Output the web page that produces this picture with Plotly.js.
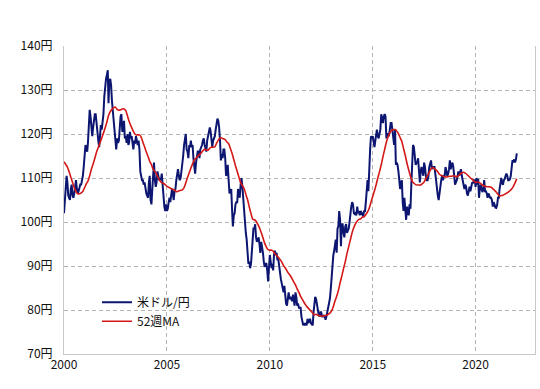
<!DOCTYPE html>
<html><head><meta charset="utf-8">
<script src="https://cdn.plot.ly/plotly-3.0.1.min.js"></script>
<style>html,body{margin:0;padding:0;background:#fff}#chart{width:540px;height:389px}</style>
</head><body><div id="chart"></div>
<script>
const seriesNames = ['米ドル/円', '52週MA'];
const yTickVals = [70, 80, 90, 100, 110, 120, 130, 140];
const yTickText = ['70円', '80円', '90円', '100円', '110円', '120円', '130円', '140円'];
const xTickVals = ['2000-01-01', '2005-01-01', '2010-01-01', '2015-01-01', '2020-01-01'];
const xTickText = ['2000', '2005', '2010', '2015', '2020'];

// USD/JPY, semi-monthly readings (1st and 16th of each month) from 2000-01 to 2022-01
const usdJpy = [
  102.0,105.5, 108.0,110.5, 109.0,106.0, 105.5,105.0, 107.5,108.5, 106.0,105.5, 106.5,108.5, 109.5,107.5, 106.5,107.0, 108.0,108.5, 108.5,109.5, 110.5,112.5,
  114.5,117.5, 116.5,116.0, 118.0,122.5, 125.5,124.0, 121.0,119.5, 121.5,124.0, 124.5,124.5, 122.0,120.0, 118.5,117.0, 120.5,122.0, 121.0,122.5, 124.5,128.5,
  131.5,132.5, 133.5,134.5, 127.0,132.0, 132.5,131.0, 127.5,125.0, 124.5,121.5, 118.0,116.5, 119.0,118.0, 118.5,122.0, 124.0,124.5, 120.5,121.0, 123.0,119.0,
  119.5,118.0, 120.0,117.5, 118.0,120.5, 119.0,119.5, 117.5,116.5, 118.5,117.8, 119.5,118.0, 117.5,118.5, 116.5,111.5, 110.0,109.5, 109.5,108.5, 109.0,107.5,
  106.5,106.0, 105.5,109.0, 110.5,105.0, 104.0,107.5, 110.5,113.5, 109.5,108.0, 109.0,111.5, 110.5,109.5, 110.0,109.5, 111.0,108.0, 105.5,103.5, 102.5,104.0,
  102.5,103.0, 104.5,105.5, 104.5,106.0, 107.5,106.5, 105.0,107.0, 107.5,109.5, 111.5,112.0, 110.5,109.5, 110.0,111.5, 113.5,115.0, 117.5,118.5, 120.0,116.5,
  116.0,114.5, 117.5,117.0, 118.5,117.0, 117.5,114.5, 111.5,111.0, 113.5,115.0, 116.0,116.0, 114.5,116.5, 117.0,117.5, 118.5,119.0, 117.5,116.5, 116.0,118.5,
  119.5,121.0, 121.5,120.5, 117.5,117.0, 118.5,119.0, 119.5,121.0, 122.0,123.5, 123.0,121.5, 118.5,114.0, 115.5,114.5, 116.5,116.5, 114.5,110.5, 111.0,113.0,
  109.5,106.5, 107.0,107.5, 103.0,99.0, 101.5,102.0, 104.0,104.5, 104.5,107.5, 106.5,105.5, 108.5,110.0, 108.0,105.0, 103.5,99.0, 97.5,96.0, 93.5,90.5,
  91.0,89.5, 90.5,93.5, 98.0,98.5, 98.5,99.5, 96.5,95.5, 96.0,96.5, 95.0,93.0, 95.5,94.5, 93.0,91.0, 89.8,90.5, 90.5,89.0, 86.5,89.5,
  92.5,91.0, 89.5,90.5, 89.0,92.5, 93.5,92.5, 93.0,91.5, 91.5,90.0, 88.0,87.0, 86.0,85.0, 84.0,85.5, 83.0,81.5, 81.0,83.5, 84.0,82.5,
  83.0,82.5, 82.0,83.5, 81.5,81.0, 84.0,83.0, 81.0,81.5, 80.5,80.5, 80.5,78.5, 77.5,76.5, 77.0,76.5, 77.0,76.5, 78.0,77.0, 77.5,78.0,
  77.0,76.8, 76.5,79.5, 81.5,83.0, 82.5,81.0, 80.0,79.0, 78.5,79.5, 79.5,78.5, 78.5,78.7, 78.5,77.8, 78.5,79.5, 80.0,81.5, 82.5,84.5,
  87.5,89.5, 92.5,93.5, 94.5,96.0, 93.0,98.5, 99.0,102.5, 100.5,94.5, 99.5,99.5, 97.5,96.5, 99.0,99.5, 97.5,98.0, 98.5,100.0, 102.5,103.5,
  104.5,104.0, 102.0,101.8, 102.0,101.5, 103.5,102.0, 102.5,101.5, 102.5,102.0, 101.8,101.3, 102.6,102.3, 104.5,107.5, 109.5,107.0, 114.5,116.5, 119.5,119.0,
  119.5,117.5, 117.0,118.5, 120.0,121.0, 119.5,119.0, 120.0,121.0, 124.5,123.5, 122.5,124.0, 124.5,124.0, 119.0,120.0, 120.0,119.5, 121.5,122.5, 122.5,121.0,
  119.5,117.5, 121.0,113.0, 113.5,113.0, 111.5,108.5, 107.5,109.0, 109.5,104.5, 102.5,105.5, 102.0,100.5, 103.5,102.0, 101.5,104.0, 103.0,108.5, 113.5,117.5,
  117.0,114.5, 113.0,113.5, 113.5,114.5, 111.0,109.0, 111.5,112.5, 111.5,110.5, 113.5,112.5, 110.5,109.5, 109.5,110.5, 112.5,113.5, 114.0,112.0, 112.5,112.5,
  112.5,111.0, 109.0,106.5, 106.0,105.0, 107.0,108.0, 109.5,110.5, 109.5,110.5, 110.5,112.5, 111.5,110.5, 111.0,112.0, 114.0,112.0, 113.0,113.5, 112.5,110.5,
  108.5,109.0, 109.5,110.5, 111.5,110.5, 111.5,112.0, 110.5,109.5, 108.5,107.5, 108.5,108.0, 106.5,106.0, 107.0,108.0, 107.0,108.5, 109.0,108.8, 109.5,109.5,
  108.0,110.0, 108.5,109.8, 105.5,107.5, 108.5,107.5, 106.8,107.3, 109.5,107.0, 107.0,106.5, 105.5,106.5, 106.0,105.5, 105.5,105.0, 103.5,104.5, 104.0,103.3,
  103.2,103.8, 105.5,105.5, 107.5,109.0, 110.0,108.8, 108.5,109.5, 109.8,110.5, 111.0,110.5, 109.5,109.5, 109.7,110.5, 112.5,114.0, 113.8,114.2, 113.5,114.2,
  115.6
];

// 52-week moving average, monthly readings (1st of each month) from 2000-01 to 2022-01
const ma52 = [
  113.7, 113.1,112.5,111.4,110.2,109.0,107.8,106.9,106.4,106.4,106.6,107.0,
  107.8, 108.7,109.3,110.5,112.0,113.2,114.5,115.9,117.0,118.0,119.1,120.2,
  121.4, 122.8,124.2,125.1,125.6,126.0,126.1,125.6,125.4,125.5,125.7,125.7,
  125.3, 124.1,122.9,121.9,121.0,120.2,119.8,119.8,119.8,119.3,118.1,117.1,
  115.9, 114.9,113.8,113.0,112.0,111.5,110.8,110.0,109.3,108.9,108.8,108.5,
  108.1, 107.9,107.7,107.5,107.4,107.0,106.9,107.1,107.2,107.3,107.8,108.9,
  110.1, 111.2,112.2,113.2,114.1,114.5,115.0,115.3,115.7,116.2,116.5,116.4,
  116.3, 116.8,117.0,117.0,117.1,117.9,118.6,119.1,119.1,118.9,118.7,118.2,
  117.8, 116.7,115.6,114.2,112.8,111.5,110.2,108.9,108.3,107.6,106.3,105.1,
  103.4, 101.9,100.7,100.5,100.2,99.5,98.7,97.6,96.4,95.2,94.3,93.7,
  93.6, 93.6,93.4,92.8,92.4,92.0,91.5,90.9,90.1,89.6,88.9,88.3,
  87.8, 87.1,86.4,85.7,84.8,84.0,83.1,82.4,81.7,81.1,80.6,80.2,
  79.8, 79.3,78.9,79.0,78.8,78.7,78.6,78.6,78.7,78.8,79.0,79.3,
  79.8, 80.8,82.0,83.1,84.4,86.2,87.7,89.4,91.0,92.8,94.4,96.0,
  97.6, 98.8,99.6,100.2,100.6,100.7,101.1,101.2,101.7,102.3,103.2,104.5,
  105.8, 107.1,108.4,110.0,111.4,113.0,114.8,116.5,118.2,119.3,120.3,120.8,
  121.0, 121.0,120.7,120.1,119.2,118.3,116.7,115.1,113.3,111.8,110.4,109.3,
  108.8, 108.5,108.4,108.4,108.4,108.7,109.1,109.9,110.6,111.3,112.1,112.4,
  112.1, 111.8,111.4,110.8,110.6,110.4,110.3,110.2,110.3,110.4,110.4,110.5,
  110.4, 110.3,110.5,110.9,111.2,111.3,111.1,110.8,110.4,110.0,109.7,109.3,
  109.0, 109.1,109.0,108.7,108.4,108.2,108.1,108.0,108.0,107.9,107.6,107.2,
  106.8, 106.3,105.9,106.0,106.1,106.3,106.5,106.8,107.1,107.5,108.1,108.9,
  109.8
];

function pad(n) { return (n < 10 ? '0' : '') + n; }
function semiMonthlyDates(startYear, n) {
  const out = [];
  for (let i = 0; i < n; i++) {
    const y = startYear + Math.floor(i / 24);
    const m = Math.floor((i % 24) / 2) + 1;
    out.push(y + '-' + pad(m) + '-' + (i % 2 ? '16' : '01'));
  }
  return out;
}
function monthlyDates(startYear, n) {
  const out = [];
  for (let i = 0; i < n; i++) {
    const y = startYear + Math.floor(i / 12);
    const m = (i % 12) + 1;
    out.push(y + '-' + pad(m) + '-01');
  }
  return out;
}

const font = "'Noto Sans CJK JP', 'Noto Sans', sans-serif";

const traces = [
  {
    x: semiMonthlyDates(2000, usdJpy.length), y: usdJpy,
    type: 'scatter', mode: 'lines', name: seriesNames[0],
    line: { color: '#0c1670', width: 2 }
  },
  {
    x: monthlyDates(2000, ma52.length), y: ma52,
    type: 'scatter', mode: 'lines', name: seriesNames[1],
    line: { color: '#d41818', width: 1.6, shape: 'spline', smoothing: 0.6 }
  }
];

const layout = {
  width: 540, height: 389,
  margin: { l: 64, r: 5, t: 46, b: 35 },
  paper_bgcolor: '#ffffff', plot_bgcolor: '#ffffff',
  font: { family: font, size: 12, color: '#111' },
  showlegend: true,
  legend: {
    x: 0.07, y: 0.215, xanchor: 'left', yanchor: 'top',
    bgcolor: 'rgba(0,0,0,0)', font: { family: font, size: 12, color: '#111' },
    tracegroupgap: 0
  },
  xaxis: {
    type: 'date',
    range: ['2000-01-01', '2022-11-20'],
    tickvals: xTickVals, ticktext: xTickText,
    showgrid: true, gridcolor: '#b4b4b4', griddash: '4px,3px', gridwidth: 1,
    showline: true, linecolor: '#c8c8c8', linewidth: 1, mirror: false,
    ticks: '', zeroline: false,
    tickfont: { family: font, size: 12, color: '#111' }
  },
  yaxis: {
    range: [70, 140],
    tickvals: yTickVals, ticktext: yTickText,
    showgrid: true, gridcolor: '#b4b4b4', griddash: '4px,3px', gridwidth: 1,
    showline: true, linecolor: '#c8c8c8', linewidth: 1, mirror: true,
    ticks: '', zeroline: false, ticklabelstandoff: 8,
    tickfont: { family: font, size: 12, color: '#111' }
  }
};

Plotly.newPlot('chart', traces, layout, { displayModeBar: false, staticPlot: true });
</script>
</body></html>
